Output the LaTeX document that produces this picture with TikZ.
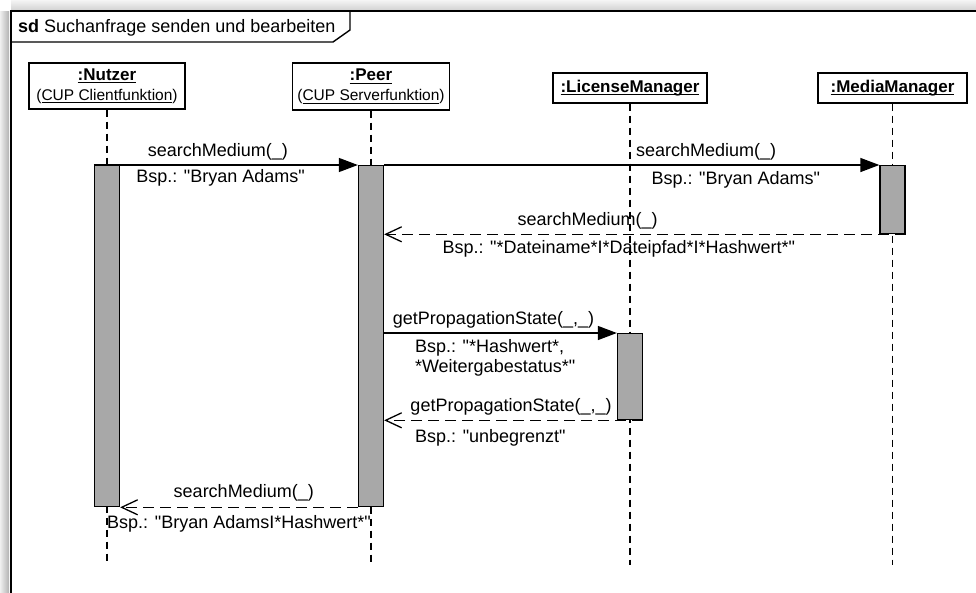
\documentclass[tikz,border=0pt]{standalone}
\usepackage{fontspec}
\setmainfont{Liberation Sans}[Ligatures=TeXOff]
\usetikzlibrary{arrows.meta}
\definecolor{actgray}{RGB}{168,168,168}
\newcommand{\msgfont}{\fontsize{18}{20}\selectfont}
\newcommand{\namefont}{\fontsize{17}{20}\selectfont\bfseries}
\newcommand{\subfont}{\fontsize{15.5}{20}\selectfont}
% underline at a fixed depth below the baseline
\newsavebox{\ulsave}
\newcommand{\ulname}[1]{\sbox{\ulsave}{#1}\rlap{\rule[-3pt]{\wd\ulsave}{1.2pt}}\usebox{\ulsave}}

\tikzset{
  party/.style={draw, line width=1.4pt, fill=white, inner sep=2pt, align=center, font=\subfont},
  lifeline/.style={line width=1.3pt, dash pattern=on 7pt off 5pt},
  actbar/.style={draw, fill=actgray, line width=1.3pt, minimum width=25pt, inner sep=0pt, anchor=north},
  sync/.style={line width=1.3pt, -{Triangle[length=19pt,width=14pt]}},
  reply/.style={line width=1.3pt, dash pattern=on 11pt off 6pt, -{Straight Barb[length=16pt,width=15pt]}},
  lbl/.style={font=\msgfont, inner sep=0pt},
}

\begin{document}
\begin{tikzpicture}[x=1pt, y=-1pt]
\clip (0,0) rectangle (976,592);
% soft shadow round the frame
\shade[left color=black!6, right color=black!30] (0,11) rectangle (9,592);
\shade[top color=black!4, bottom color=black!16] (11,0) rectangle (976,9);

% frame and name tag
\draw[line width=2.5pt] (11,600) -- (11,11) -- (990,11);
\draw[line width=1.4pt] (11,42) -- (333,42) -- (350,30) -- (350,11);
\node[lbl, anchor=base west] (title) at (18,32) {\textbf{sd} Suchanfrage senden und bearbeiten};

% participants
\node[party, minimum width=156, minimum height=46] (nutzer) at (107,86) {{\namefont\ulname{:Nutzer}}\\(\ulname{CUP Clientfunktion})};
\node[party, minimum width=157, minimum height=47] (peer) at (371,86.5) {{\namefont\ulname{:Peer}}\\(\ulname{CUP Serverfunktion})};
\node[party, minimum width=154, minimum height=30] (license) at (630,88) {\namefont\ulname{:LicenseManager}};
\node[party, minimum width=149, minimum height=30] (media) at (892.5,88) {\namefont\ulname{:MediaManager}};

\coordinate (bottom) at (0,565);
\draw[lifeline] (nutzer.south) -- (nutzer.south |- bottom);
\draw[lifeline] (peer.south) -- (peer.south |- bottom);
\draw[lifeline] (license.south) -- (license.south |- bottom);
\draw[lifeline] (media.south) -- (media.south |- bottom);

% activations
\node[actbar, minimum height=341] (nutzer-act) at (107,165) {};
\node[actbar, minimum height=341] (peer-act) at (371,165) {};
\node[actbar, minimum height=68] (media-act) at (892.5,165) {};
\node[actbar, minimum height=86] (license-act) at (630,333) {};

% messages
\path[sync] (nutzer-act.north west) edge node[lbl, above=4pt, pos=.47] {searchMedium(\_)} node[lbl, below=4pt, pos=.48] {Bsp.: "Bryan Adams"} (peer-act.north west);
\path[sync] (peer-act.north east) edge node[lbl, above=4pt, pos=.65] {searchMedium(\_)} node[lbl, below=6pt, pos=.71] {Bsp.: "Bryan Adams"} (media-act.north west);
\path[reply] (media-act.south east) edge node[lbl, above=4pt, pos=.61] {searchMedium(\_)} node[lbl, below=6pt, pos=.55] {Bsp.: "*Dateiname*I*Dateipfad*I*Hashwert*"} (peer-act.east |- media-act.south);
\path[sync] (peer-act.east |- license-act.north) edge node[lbl, above=4pt, pos=.47] {getPropagationState(\_,\_)} node[lbl, anchor=north west, yshift=-6pt, pos=.13, align=left] {Bsp.: "*Hashwert*,\\{*}Weitergabestatus*"} (license-act.north west);
\path[reply] (license-act.south east) edge node[lbl, above=4pt, pos=.51] {getPropagationState(\_,\_)} node[lbl, below=8pt, pos=.59] {Bsp.: "unbegrenzt"} (peer-act.east |- license-act.south);
\path[reply] (peer-act.south west) edge node[lbl, above=5pt, pos=.48] {searchMedium(\_)} node[lbl, below=7pt, pos=.5] {Bsp.: "Bryan AdamsI*Hashwert*"} (nutzer-act.south east);
\end{tikzpicture}
\end{document}
